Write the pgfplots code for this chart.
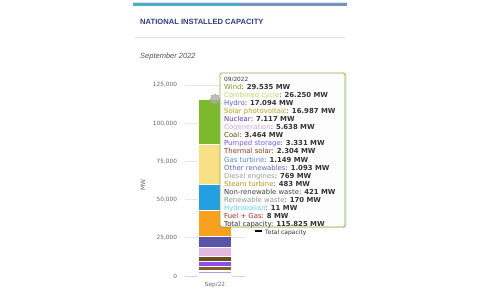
\documentclass[border=0pt]{standalone}
\usepackage{pgfplots}
\pgfplotsset{compat=1.18}
\usepackage{fontspec}
\setmainfont{DejaVu Sans}
\newfontfamily\lib{Liberation Sans}
\definecolor{cWind}{HTML}{7DB92E}
\definecolor{cCC}{HTML}{F9DF85}
\definecolor{cHydro}{HTML}{229FE0}
\definecolor{cPV}{HTML}{F7A11E}
\definecolor{cNuc}{HTML}{5A54A8}
\definecolor{cCog}{HTML}{E2B8E0}
\definecolor{cCoal}{HTML}{6B4E1E}
\definecolor{cPump}{HTML}{8B50E6}
\definecolor{cTherm}{HTML}{8A5A2C}
\definecolor{cGas}{HTML}{6F9BE0}
\definecolor{cOther}{HTML}{A99CE0}
\definecolor{cDiesel}{HTML}{A8A8A8}
\definecolor{cSteam}{HTML}{B5A622}
\definecolor{cNRW}{HTML}{555555}
\definecolor{cRW}{HTML}{9A9A9A}
\definecolor{cHE}{HTML}{6CD6F0}
\definecolor{cFG}{HTML}{A8302E}
% tooltip label colours
\definecolor{tWind}{HTML}{7B9A28}
\definecolor{tCC}{HTML}{C9D16A}
\definecolor{tHydro}{HTML}{5966D0}
\definecolor{tPV}{HTML}{B3A520}
\definecolor{tNuc}{HTML}{6A3CA2}
\definecolor{tCog}{HTML}{D6A8D8}
\definecolor{tCoal}{HTML}{5A5812}
\definecolor{tPump}{HTML}{7A5CF0}
\definecolor{tTherm}{HTML}{8A3A1C}
\definecolor{tGas}{HTML}{5A8AD8}
\definecolor{tOther}{HTML}{6464C4}
\definecolor{tDiesel}{HTML}{A0A0A0}
\definecolor{tSteam}{HTML}{B0A020}
\definecolor{tNRW}{HTML}{444444}
\definecolor{tRW}{HTML}{999999}
\definecolor{tHE}{HTML}{6AD6F0}
\definecolor{tFG}{HTML}{A23030}
\definecolor{titleblue}{HTML}{2E3F80}
\definecolor{tipborder}{HTML}{8DB33B}
\definecolor{ticktext}{HTML}{666666}
\definecolor{gridc}{HTML}{E6E6E6}
\definecolor{xaxc}{HTML}{CCD6EB}
\definecolor{hovergray}{HTML}{A8A8A8}
\begin{document}
\begin{tikzpicture}[x=1pt,y=1pt]
\path[use as bounding box] (0,0) rectangle (480,307);
% header bar
\fill[color={rgb,255:red,236;green,214;blue,236}] (133,305) rectangle (240,304);
\fill[color={rgb,255:red,200;green,238;blue,238}] (240,305) rectangle (347,304);
\fill[color={rgb,255:red,74;green,174;blue,200}] (133,304) rectangle (240,301);
\fill[color={rgb,255:red,125;green,143;blue,192}] (240,304) rectangle (347,301);
% title
\node[anchor=base west, inner sep=0, text=titleblue, font=\lib\bfseries\fontsize{7.6}{9}\selectfont] at (140,282) {NATIONAL INSTALLED CAPACITY};
\draw[color={rgb,255:red,225;green,225;blue,225}, line width=0.6] (135,270) -- (345,270);
\node[anchor=base west, inner sep=0, text={rgb,255:red,85;green,85;blue,85}, font=\lib\itshape\fontsize{7.5}{9}\selectfont] at (140,248) {September 2022};
\begin{axis}[
  at={(185pt,31pt)}, anchor=south west,
  width=60pt, height=191pt, scale only axis,
  ybar stacked, bar width=33pt,
  xmin=-0.5, xmax=0.5, ymin=0, ymax=125000,
  xtick={0}, xticklabels={Sep/22},
  ytick={0,25000,50000,75000,100000,125000},
  yticklabels={0,{25,000},{50,000},{75,000},{100,000},{125,000}},
  scaled y ticks=false,
  ymajorgrids, grid style={color=gridc, line width=0.6pt},
  axis y line*=left, axis x line*=bottom,
  y axis line style={draw=none},
  x axis line style={color=xaxc, line width=0.6pt},
  major tick length=0pt,
  tick label style={font=\fontsize{5.8}{7}\selectfont, text=ticktext},
  yticklabel style={xshift=-4.5pt},
  xticklabel style={yshift=-2.5pt},
  clip=false,
  every axis plot/.append style={draw=white, line width=0.4pt},
]
\addplot[fill=cFG] coordinates {(0,8)};
\addplot[fill=cHE] coordinates {(0,11)};
\addplot[fill=cRW] coordinates {(0,170)};
\addplot[fill=cNRW] coordinates {(0,421)};
\addplot[fill=cSteam] coordinates {(0,483)};
\addplot[fill=cDiesel] coordinates {(0,769)};
\addplot[fill=cOther] coordinates {(0,1093)};
\addplot[fill=cGas] coordinates {(0,1149)};
\addplot[fill=cTherm] coordinates {(0,2304)};
\addplot[fill=cPump] coordinates {(0,3331)};
\addplot[fill=cCoal] coordinates {(0,3464)};
\addplot[fill=cCog] coordinates {(0,5638)};
\addplot[fill=cNuc] coordinates {(0,7117)};
\addplot[fill=cPV] coordinates {(0,16987)};
\addplot[fill=cHydro] coordinates {(0,17094)};
\addplot[fill=cCC] coordinates {(0,26250)};
\addplot[fill=cWind] coordinates {(0,29535)};
\end{axis}
\node[rotate=90, inner sep=0, text=ticktext, font=\fontsize{6}{7}\selectfont] at (143,122) {MW};
\begin{axis}[
  at={(185pt,31pt)}, anchor=south west,
  width=60pt, height=191pt, scale only axis,
  xmin=-0.5, xmax=0.5, ymin=0, ymax=125000,
  hide axis, clip=false,
]
\addplot[only marks, mark=*, mark size=4.5pt, color=hovergray, mark options={draw=hovergray, fill=hovergray, line width=0pt, opacity=0.75}] coordinates {(0,115825)};
\end{axis}
% legend partly hidden
\draw[black, line width=1.2pt] (255,76) -- (262,76);
\node[anchor=west, inner sep=0, text={rgb,255:red,51;green,51;blue,51}, font=\fontsize{6}{7}\selectfont] at (265,74.5) {Total capacity};
% tooltip
\fill[black, opacity=0.08] (221.5,78.5) rectangle (346.5,233.5);
\filldraw[fill=white, fill opacity=0.95, draw=tipborder, line width=0.9pt, rounded corners=1.5pt] (220,80) rectangle (345,234);
\node[anchor=north west, inner sep=0, align=left, text={rgb,255:red,51;green,51;blue,51},
  font=\fontsize{6.9}{8.05}\selectfont] at (224,230) {%
{\fontsize{5.8}{8.05}\selectfont 09/2022}\\
\textcolor{tWind}{Wind}: \textbf{29.535 MW}\\
\textcolor{tCC}{Combined cycle}: \textbf{26.250 MW}\\
\textcolor{tHydro}{Hydro}: \textbf{17.094 MW}\\
\textcolor{tPV}{Solar photovoltaic}: \textbf{16.987 MW}\\
\textcolor{tNuc}{Nuclear}: \textbf{7.117 MW}\\
\textcolor{tCog}{Cogeneration}: \textbf{5.638 MW}\\
\textcolor{tCoal}{Coal}: \textbf{3.464 MW}\\
\textcolor{tPump}{Pumped storage}: \textbf{3.331 MW}\\
\textcolor{tTherm}{Thermal solar}: \textbf{2.304 MW}\\
\textcolor{tGas}{Gas turbine}: \textbf{1.149 MW}\\
\textcolor{tOther}{Other renewables}: \textbf{1.093 MW}\\
\textcolor{tDiesel}{Diesel engines}: \textbf{769 MW}\\
\textcolor{tSteam}{Steam turbine}: \textbf{483 MW}\\
\textcolor{tNRW}{Non-renewable waste}: \textbf{421 MW}\\
\textcolor{tRW}{Renewable waste}: \textbf{170 MW}\\
\textcolor{tHE}{Hydroeolian}: \textbf{11 MW}\\
\textcolor{tFG}{Fuel + Gas}: \textbf{8 MW}\\
Total capacity: \textbf{115.825 MW}};
\end{tikzpicture}
\end{document}
